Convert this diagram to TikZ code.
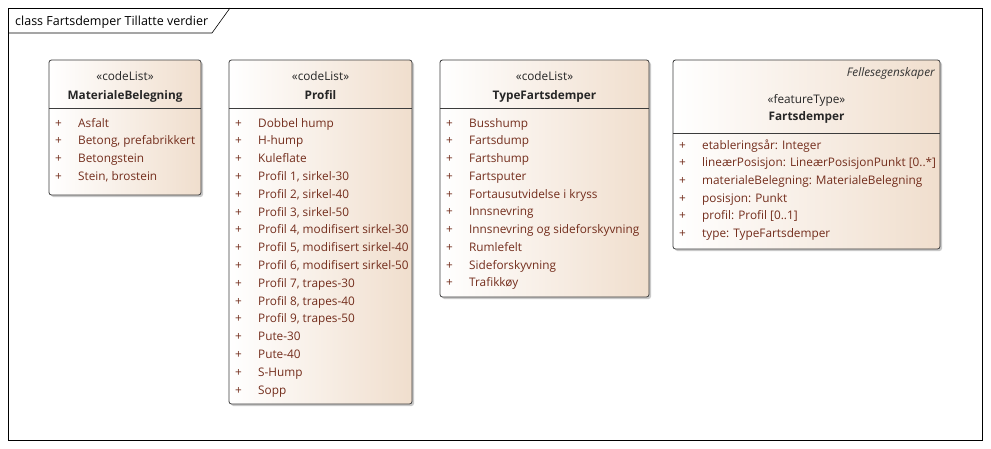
\documentclass[tikz,border=0pt]{standalone}
\usepackage{fontspec}
\setmainfont{Open Sans}
\usetikzlibrary{shadows}
\definecolor{itemc}{RGB}{115,45,28}
\definecolor{boxend}{RGB}{240,222,205}
\definecolor{framec}{RGB}{60,60,60}
\tikzset{
  umlbox/.style={draw=framec, line width=0.8pt, rounded corners=2.5pt, left color=white, right color=boxend,
    drop shadow={shadow xshift=2pt, shadow yshift=-2pt, fill=black!35, opacity=0.6}},
  sep/.style={draw=framec, line width=0.6pt},
  stereo/.style={font=\fontsize{11.8}{14}\selectfont, text=black!85, anchor=base},
  cname/.style={font=\fontsize{11.8}{14}\selectfont\bfseries, text=black!85, anchor=base},
  item/.style={font=\fontsize{11.8}{14}\selectfont, text=itemc, anchor=base west, inner sep=0pt},
  plus/.style={font=\fontsize{11.8}{14}\selectfont, text=itemc, anchor=base west, inner sep=0pt},
}
\begin{document}
\begin{tikzpicture}[x=1pt,y=-1pt]
\useasboundingbox (0,0) rectangle (991,448);
\fill[white] (0,0) rectangle (991,448);
% frame
\draw[black, line width=0.6pt] (8,8) rectangle (982,440);
\draw[black, line width=0.6pt] (8,33) -- (212,33) -- (230,8);
\node[anchor=base west, font=\fontsize{12.5}{14}\selectfont, inner sep=0pt] (title) at (15,25) {class Fartsdemper Tillatte verdier};

% Box 1
\path[umlbox] (49,60) rectangle (201,195);
\draw[sep] (49,108) -- (201,108);
\node[stereo] (s1) at (125,80) {«codeList»};
\node[cname] (n1) at (125,99) {MaterialeBelegning};
\foreach \t [count=\i] in {Asfalt,{Betong, prefabrikkert},Betongstein,{Stein, brostein}} {
  \node[plus] (p1\i) at (55,{123+(\i-1)*17.7+4}) {+};
  \node[item] (i1\i) at (78,{123+(\i-1)*17.7+4}) {\t};
}

% Box 2
\path[umlbox] (229,60) rectangle (412,404);
\draw[sep] (229,108) -- (412,108);
\node[stereo] (s2) at (320.5,80) {«codeList»};
\node[cname] (n2) at (320.5,99) {Profil};
\foreach \t [count=\i] in {Dobbel hump,H-hump,Kuleflate,{Profil 1, sirkel-30},{Profil 2, sirkel-40},{Profil 3, sirkel-50},{Profil 4, modifisert sirkel-30},{Profil 5, modifisert sirkel-40},{Profil 6, modifisert sirkel-50},{Profil 7, trapes-30},{Profil 8, trapes-40},{Profil 9, trapes-50},Pute-30,Pute-40,S-Hump,Sopp} {
  \node[plus] (p2\i) at (235,{123+(\i-1)*17.8+4}) {+};
  \node[item] (i2\i) at (258,{123+(\i-1)*17.8+4}) {\t};
}

% Box 3
\path[umlbox] (440,60) rectangle (649,297);
\draw[sep] (440,108) -- (649,108);
\node[stereo] (s3) at (544.5,80) {«codeList»};
\node[cname] (n3) at (544.5,99) {TypeFartsdemper};
\foreach \t [count=\i] in {Busshump,Fartsdump,Fartshump,Fartsputer,Fortausutvidelse i kryss,Innsnevring,Innsnevring og sideforskyvning,Rumlefelt,Sideforskyvning,Trafikkøy} {
  \node[plus] (p3\i) at (446,{123+(\i-1)*17.75+4}) {+};
  \node[item] (i3\i) at (469,{123+(\i-1)*17.75+4}) {\t};
}

% Box 4
\path[umlbox] (673,60) rectangle (940,249);
\draw[sep] (673,133) -- (940,133);
\node[anchor=base east, font=\fontsize{11.8}{14}\selectfont\itshape, text=black!80, inner sep=0pt] (f4) at (935,76) {Fellesegenskaper};
\node[stereo] (s4) at (806.5,103) {«featureType»};
\node[cname] (n4) at (806.5,120) {Fartsdemper};
\foreach \t [count=\i] in {etableringsår: Integer,{lineærPosisjon: LineærPosisjonPunkt [0..*]},materialeBelegning: MaterialeBelegning,posisjon: Punkt,{profil: Profil [0..1]},type: TypeFartsdemper} {
  \node[plus] (p4\i) at (679,{145+(\i-1)*17.7+4}) {+};
  \node[item] (i4\i) at (702,{145+(\i-1)*17.7+4}) {\t};
}
\end{tikzpicture}
\end{document}
